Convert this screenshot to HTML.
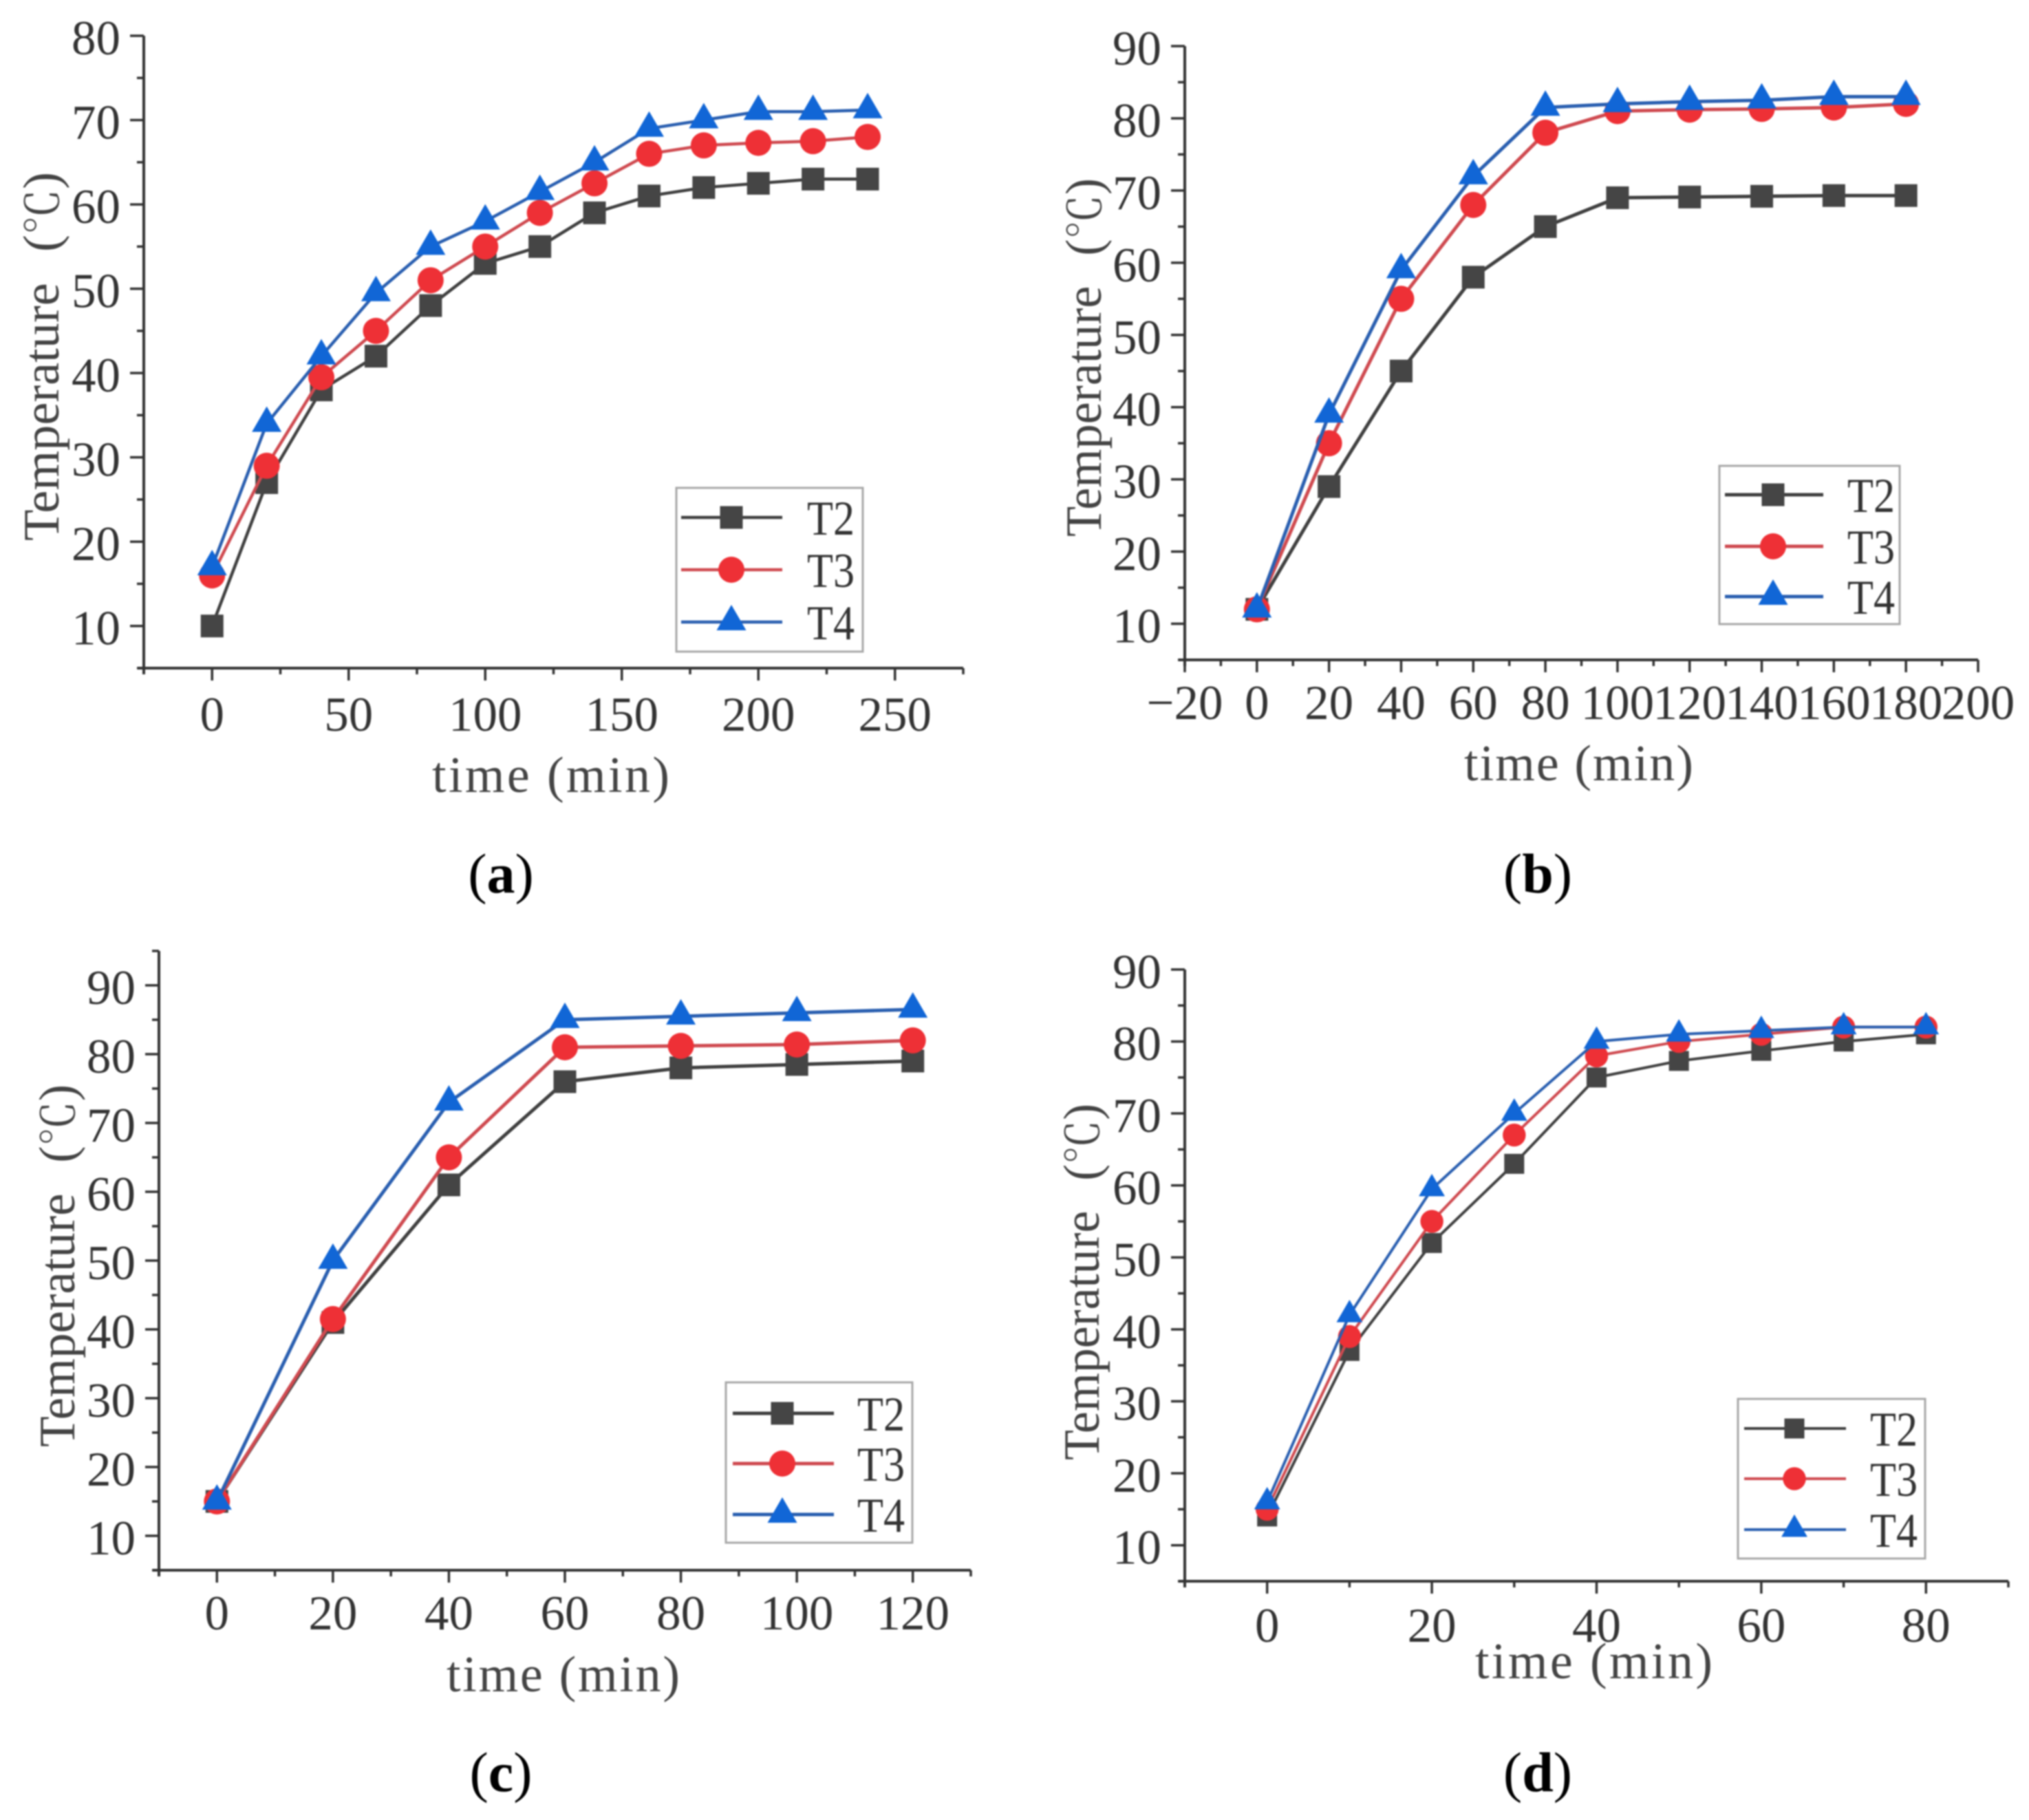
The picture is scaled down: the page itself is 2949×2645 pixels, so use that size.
<!DOCTYPE html>
<html lang="en">
<head>
<meta charset="utf-8">
<title>Temperature versus time, panels a to d</title>
<style>
html,body{margin:0;padding:0;background:#fff;}
#figure{display:block;width:2949px;height:2645px;filter:blur(1px);}
text{font-family:"Liberation Serif","Noto Serif CJK SC",serif;fill:#333;}
.axis-title{font-size:74px;fill:#444;}
.tick-label{font-size:71px;}
.legend-label{font-size:71px;}
.caption{font-size:82px;fill:#000;}
</style>
</head>
<body>
<svg id="figure" xmlns="http://www.w3.org/2000/svg" width="2949" height="2645" viewBox="0 0 2949 2645"></svg>
<script>
// ----- Panel (a) data -----
const aTimes = [0,20,40,60,80,100,120,140,160,180,200,220,240];
const aT2 = [10,27,38,42,48,53,55,59,61,62,62.5,63,63];
const aT3 = [16,29,39.5,45,51,55,59,62.5,66,67,67.3,67.5,68];
const aT4 = [17,34,42,49.5,55,58,61.5,65,69,70,71,71,71.2];
const aXTicks = [0,50,100,150,200,250];
const aYTicks = [10,20,30,40,50,60,70,80];

// ----- Panel (b) data -----
const bTimes = [0,20,40,60,80,100,120,140,160,180];
const bT2 = [12,29,45,58,65,69,69.1,69.2,69.3,69.3];
const bT3 = [12,35,55,68,78,81,81.2,81.3,81.5,82];
const bT4 = [12,39,59,72,81.5,82,82.3,82.5,83,83];
const bXTicks = [-20,0,20,40,60,80,100,120,140,160,180,200];
const bYTicks = [10,20,30,40,50,60,70,80,90];

// ----- Panel (c) data -----
const cTimes = [0,20,40,60,80,100,120];
const cT2 = [15,41,61,76,78,78.5,79];
const cT3 = [15,41.5,65,81,81.2,81.4,82];
const cT4 = [15,50,73,85,85.5,86,86.5];
const cXTicks = [0,20,40,60,80,100,120];
const cYTicks = [10,20,30,40,50,60,70,80,90];

// ----- Panel (d) data -----
const dTimes = [0,10,20,30,40,50,60,70,80];
const dT2 = [14,37,52,63,75,77.3,78.7,80,81];
const dT3 = [15,39,55,67,78,80,81,82,82];
const dT4 = [16,42,59.5,70,80,81,81.5,82,82];
const dXTicks = [0,20,40,60,80];
const dYTicks = [10,20,30,40,50,60,70,80,90];

const seriesNames = ['T2','T3','T4'];

const panels = [
  {id:'a',times:aTimes,series:[aT2,aT3,aT4],xTicks:aXTicks,yTicks:aYTicks,
   xMin:-25,xMax:275,yMin:5,yMax:80,left:209,right:1400,top:52,bottom:971,
   xLabelY:1038,xTitle:[628,973,1129],yTitle:[62,245,786],
   legend:{x0:983,x1:1254,y0:709,y1:947,rows:[752,828,904],l0:990,l1:1137,mx:1063,tx:1173},
   caption:[728,1275],ms:1,lw:4.5},
  {id:'b',times:bTimes,series:[bT2,bT3,bT4],xTicks:bXTicks,yTicks:bYTicks,
   xMin:-20,xMax:200,yMin:5,yMax:90,left:1722,right:2875,top:67,bottom:959,
   xLabelY:1021,xTitle:[2128,2461,1112],yTitle:[1577,254,780],
   legend:{x0:2499,x1:2761,y0:677,y1:907,rows:[719,794,867],l0:2507,l1:2650,mx:2577,tx:2685},
   caption:[2235,1275],ms:1,lw:5},
  {id:'c',times:cTimes,series:[cT2,cT3,cT4],xTicks:cXTicks,yTicks:cYTicks,
   xMin:-10,xMax:130,yMin:5,yMax:95,left:231,right:1411,top:1382,bottom:2282,
   xLabelY:2344,xTitle:[649,988,2436],yTitle:[85,1571,2103],
   legend:{x0:1055,x1:1326,y0:2009,y1:2242,rows:[2054,2127,2201],l0:1065,l1:1212,mx:1137,tx:1246},
   caption:[728,2581],ms:1,lw:5},
  {id:'d',times:dTimes,series:[dT2,dT3,dT4],xTicks:dXTicks,yTicks:dYTicks,
   xMin:-10,xMax:90,yMin:5,yMax:90,left:1722,right:2919,top:1409,bottom:2298,
   xLabelY:2362,xTitle:[2144,2489,2417],yTitle:[1574,1599,2122],
   legend:{x0:2526,x1:2798,y0:2033,y1:2265,rows:[2076,2149,2223],l0:2535,l1:2683,mx:2608,tx:2718},
   caption:[2235,2581],ms:0.88,lw:4}
];

const lineColors = ['#404040','#cf4a50','#2a5fb0'];
const fillColors = ['#454545','#ee3036','#1166d6'];
const SVG_NS = 'http://www.w3.org/2000/svg';
const root = document.getElementById('figure');

function make(tag, parent, attrs) {
  const el = document.createElementNS(SVG_NS, tag);
  for (const key in attrs) el.setAttribute(key, attrs[key]);
  parent.appendChild(el);
  return el;
}

function drawMarker(parent, kind, cx, cy, scale) {
  let el;
  if (kind === 0) {
    const s = 33 * scale;
    el = make('rect', parent, {x: cx - s/2, y: cy - s/2, width: s, height: s, fill: fillColors[0]});
    
  } else if (kind === 1) {
    el = make('circle', parent, {cx: cx, cy: cy, r: 19 * scale, fill: fillColors[1]});
    
  } else {
    const w = 21.5 * scale;
    el = make('polygon', parent, {points: (cx-w)+','+(cy+12*scale)+' '+(cx+w)+','+(cy+12*scale)+' '+cx+','+(cy-25*scale), fill: fillColors[2]});
    
  }
  
  return el;
}

function drawPanel(p) {
  const g = make('g', root, {});
  
  

  const xScale = v => p.left + (v - p.xMin) / (p.xMax - p.xMin) * (p.right - p.left);
  const yScale = v => p.bottom - (v - p.yMin) / (p.yMax - p.yMin) * (p.bottom - p.top);

  // axes
  const yAxis = make('line', g, {x1:p.left, x2:p.left, y1:p.top, y2:p.bottom + 9, stroke:'#333', 'stroke-width':4});
  
  
  const xAxis = make('line', g, {x1:p.left - 9, x2:p.right, y1:p.bottom, y2:p.bottom, stroke:'#333', 'stroke-width':4});
  
  

  // x ticks
  const xStep = p.xTicks[1] - p.xTicks[0];
  for (let v = p.xMin; v <= p.xMax + 0.001; v += xStep / 2) {
    const isMajor = p.xTicks.includes(v);
    const t = make('line', g, {x1:xScale(v), x2:xScale(v), y1:p.bottom, y2:p.bottom + (isMajor ? 18 : 9), stroke:'#333', 'stroke-width':3.5});
    
    
  }
  p.xTicks.forEach(v => {
    const lab = make('text', g, {x:xScale(v), y:p.xLabelY + 24, 'text-anchor':'middle', class:'tick-label'});
    lab.textContent = v < 0 ? '\u2212' + Math.abs(v) : String(v);
    
    
  });

  // y ticks
  const yStep = p.yTicks[1] - p.yTicks[0];
  for (let v = p.yMin; v <= p.yMax + 0.001; v += yStep / 2) {
    const isMajor = p.yTicks.includes(v);
    const t = make('line', g, {x1:p.left - (isMajor ? 20 : 10), x2:p.left, y1:yScale(v), y2:yScale(v), stroke:'#333', 'stroke-width':3.5});
    
    
  }
  p.yTicks.forEach(v => {
    const lab = make('text', g, {x:p.left - 34, y:yScale(v) + 27, 'text-anchor':'end', class:'tick-label'});
    lab.textContent = String(v);
    
    
  });

  // axis titles
  const xt = make('text', g, {x:p.xTitle[0], y:p.xTitle[2] + 22, class:'axis-title', textLength:p.xTitle[1] - p.xTitle[0], lengthAdjust:'spacing'});
  xt.textContent = 'time (min)';
  
  
  const titleStretch = (p.yTitle[2] - p.yTitle[1]) / 538;
  const yt = make('text', g, {x:0, y:0, class:'axis-title', transform:'translate(' + (p.yTitle[0] + 23) + ' ' + p.yTitle[2] + ') rotate(-90) scale(' + titleStretch + ' 1)'});
  
  
  const word = make('tspan', yt, {});
  word.textContent = 'Temperature';
  const unitOpen = make('tspan', yt, {dx:45});
  unitOpen.textContent = '(';
  const unit = make('tspan', yt, {'font-size':66});
  unit.textContent = '\u2103';
  const unitClose = make('tspan', yt, {});
  unitClose.textContent = ')';

  // series
  p.series.forEach((values, s) => {
    const sg = make('g', g, {});
    
    
    const pts = values.map((v, i) => xScale(p.times[i]) + ',' + yScale(v)).join(' ');
    const line = make('polyline', sg, {points:pts, fill:'none', stroke:lineColors[s], 'stroke-width':p.lw, 'stroke-linejoin':'round'});
    
    
    values.forEach((v, i) => drawMarker(sg, s, xScale(p.times[i]), yScale(v), p.ms));
  });

  // legend
  const L = p.legend;
  const lg = make('g', g, {});
  
  
  const box = make('rect', lg, {x:L.x0, y:L.y0, width:L.x1 - L.x0, height:L.y1 - L.y0, fill:'#fff', stroke:'#a8a8a8', 'stroke-width':3});
  
  
  seriesNames.forEach((name, s) => {
    const ry = L.rows[s];
    const entry = make('g', lg, {});
    
    
    const sample = make('line', entry, {x1:L.l0, x2:L.l1, y1:ry, y2:ry, stroke:lineColors[s], 'stroke-width':p.lw});
    
    
    drawMarker(entry, s, L.mx, ry, p.ms);
    const lab = make('text', entry, {x:L.tx, y:ry + 25, class:'legend-label', textLength:69, lengthAdjust:'spacingAndGlyphs'});
    lab.textContent = name;
    
    
  });

  // caption
  const cap = make('text', g, {x:p.caption[0], y:p.caption[1] + 22, 'text-anchor':'middle', class:'caption'});
  
  
  const open = make('tspan', cap, {});
  open.textContent = '(';
  const letter = make('tspan', cap, {'font-weight':'bold'});
  letter.textContent = p.id;
  const close = make('tspan', cap, {});
  close.textContent = ')';
}

panels.forEach(drawPanel);
</script>
</body>
</html>
